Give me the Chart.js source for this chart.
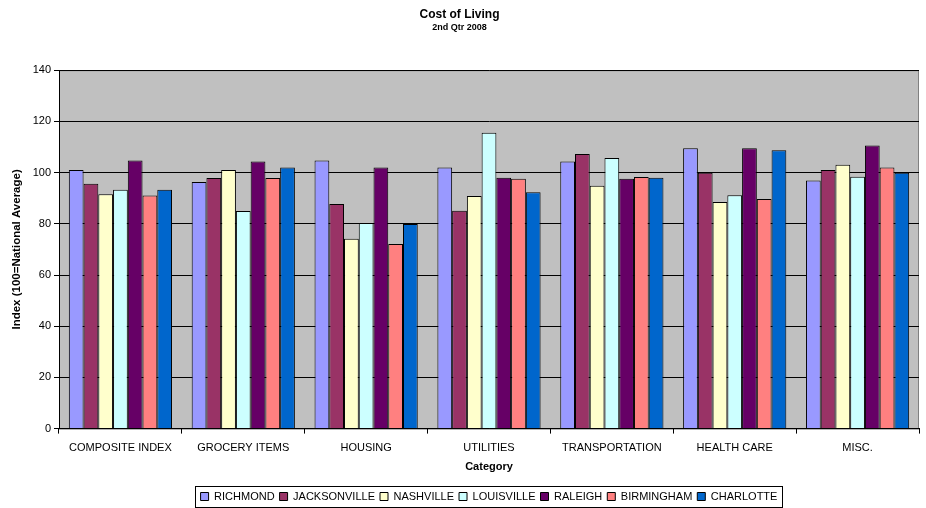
<!DOCTYPE html>
<html>
<head>
<meta charset="utf-8">
<script src="https://cdn.jsdelivr.net/npm/chart.js@4.4.0/dist/chart.umd.min.js"></script>
<style>
  html, body { margin: 0; padding: 0; background: #fff; }
  #wrap { width: 926px; height: 508px; }
</style>
</head>
<body>
<div id="wrap"><canvas id="myChart" width="926" height="508"></canvas></div>
<script>
const categories = ['COMPOSITE INDEX', 'GROCERY ITEMS', 'HOUSING', 'UTILITIES', 'TRANSPORTATION', 'HEALTH CARE', 'MISC.'];

const richmond     = [101.0, 96.3, 104.7, 102.0, 104.3, 109.5, 96.9];
const jacksonville = [95.6, 97.9, 87.7, 85.1, 107.3, 99.9, 101.0];
const nashville    = [91.5, 101.0, 74.2, 90.9, 94.9, 88.5, 103.1];
const louisville   = [93.3, 85.0, 80.3, 115.6, 105.7, 91.2, 98.4];
const raleigh      = [104.7, 104.3, 102.0, 98.0, 97.6, 109.5, 110.6];
const birmingham   = [91.1, 97.9, 72.1, 97.6, 98.3, 89.7, 102.0];
const charlotte    = [93.3, 102.0, 79.9, 92.3, 98.0, 108.7, 99.9];

const yTicks = [0, 20, 40, 60, 80, 100, 120, 140];

const FONT = '"Liberation Sans", Arial, sans-serif';

function series(label, data, color) {
    return {
        label: label,
        data: data,
        backgroundColor: color,
        borderColor: '#000000',
        borderWidth: 1,
        borderSkipped: 'bottom',
        categoryPercentage: 0.84,
        barPercentage: 1.0
    };
}

// grey plot area + frame round the legend
const plotFrame = {
    id: 'plotFrame',
    beforeDraw(chart) {
        const {ctx, chartArea: a} = chart;
        ctx.save();
        ctx.fillStyle = '#C0C0C0';
        ctx.fillRect(a.left, a.top, a.right - a.left, a.bottom - a.top);
        ctx.strokeStyle = '#808080';
        ctx.lineWidth = 1;
        ctx.strokeRect(a.left + 0.5, a.top + 0.5, a.right - a.left - 1, a.bottom - a.top);
        ctx.restore();
    },
    afterDraw(chart) {
        const boxes = chart.legend.legendHitBoxes;
        if (!boxes || !boxes.length) return;
        const left = Math.min(...boxes.map(b => b.left)) - 6;
        const right = Math.max(...boxes.map(b => b.left + b.width)) + 4;
        const top = Math.min(...boxes.map(b => b.top)) - 5;
        const bottom = Math.max(...boxes.map(b => b.top + b.height)) + 5;
        const ctx = chart.ctx;
        ctx.save();
        ctx.strokeStyle = '#000000';
        ctx.lineWidth = 1;
        ctx.strokeRect(Math.round(left) + 0.5, Math.round(top) + 0.5, Math.round(right - left), Math.round(bottom - top));
        ctx.restore();
    }
};

const ctx = document.getElementById('myChart');
new Chart(ctx, {
    type: 'bar',
    data: {
        labels: categories,
        datasets: [
            series('RICHMOND', richmond, '#9999FF'),
            series('JACKSONVILLE', jacksonville, '#993366'),
            series('NASHVILLE', nashville, '#FFFFCC'),
            series('LOUISVILLE', louisville, '#CCFFFF'),
            series('RALEIGH', raleigh, '#660066'),
            series('BIRMINGHAM', birmingham, '#FF8080'),
            series('CHARLOTTE', charlotte, '#0066CC')
        ]
    },
    plugins: [plotFrame],
    options: {
        responsive: false,
        animation: false,
        devicePixelRatio: 1,
        layout: { padding: { left: 0, right: 7, top: 0, bottom: -4 } },
        font: { family: FONT },
        plugins: {
            title: {
                display: true,
                text: 'Cost of Living',
                color: '#000',
                font: { family: FONT, size: 12, weight: 'bold' },
                padding: { top: 7, bottom: 0 }
            },
            subtitle: {
                display: true,
                text: '2nd Qtr 2008',
                color: '#000',
                font: { family: FONT, size: 9, weight: 'bold' },
                padding: { top: 1, bottom: 37 }
            },
            legend: {
                position: 'bottom',
                fullSize: false,
                labels: {
                    color: '#000',
                    font: { family: FONT, size: 11 },
                    boxWidth: 8,
                    boxHeight: 8,
                    padding: 5
                }
            },
            tooltip: { enabled: false }
        },
        scales: {
            x: {
                afterFit(scale) {
                    scale.height -= 4;
                },
                grid: {
                    display: true,
                    drawOnChartArea: false,
                    drawTicks: true,
                    tickLength: 5,
                    color: '#000'
                },
                border: { color: '#000', width: 1 },
                ticks: {
                    color: '#000',
                    font: { family: FONT, size: 11 },
                    maxRotation: 0,
                    padding: 8
                },
                title: {
                    display: true,
                    text: 'Category',
                    color: '#000',
                    font: { family: FONT, size: 11, weight: 'bold' },
                    padding: { top: 2, bottom: 12 }
                }
            },
            y: {
                min: 0,
                max: 140,
                afterBuildTicks(scale) {
                    scale.ticks = yTicks.map(v => ({ value: v }));
                },
                afterFit(scale) {
                    scale.width = 59;
                },
                grid: {
                    color: '#000',
                    tickLength: 5,
                    drawTicks: true
                },
                border: { color: '#000', width: 1 },
                ticks: {
                    color: '#000',
                    font: { family: FONT, size: 11 },
                    padding: 3
                },
                title: {
                    display: true,
                    text: 'Index (100=National Average)',
                    color: '#000',
                    font: { family: FONT, size: 11.5, weight: 'bold' },
                    padding: { top: 10, bottom: 0 }
                }
            }
        }
    }
});
</script>
</body>
</html>
